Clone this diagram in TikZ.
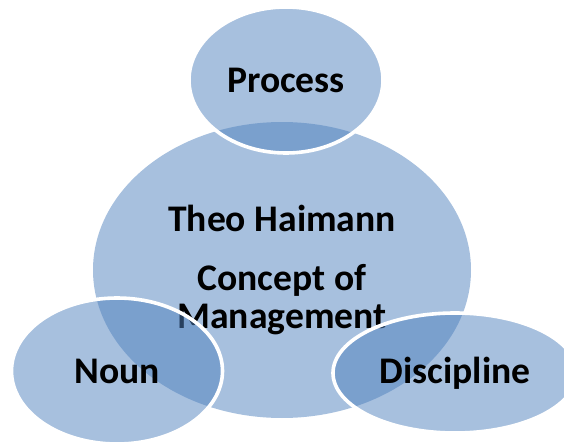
\documentclass[tikz,border=0pt]{standalone}
\usepackage{fontspec}
\setmainfont{Carlito}
\usetikzlibrary{shapes.geometric}
\definecolor{bubbleblue}{HTML}{4F81BD}

\begin{document}
\begin{tikzpicture}[x=0.5pt,y=-0.5pt]
\tikzset{bubble/.style = {shape=ellipse,fill=bubbleblue,fill opacity=0.5,text opacity=1,draw=white,line width=1.8pt,inner sep=0pt,align=center,font=\fontsize{18.8}{19}\selectfont\bfseries}}
\tikzset{core/.style = {bubble,draw=none}}
\clip (0,0) rectangle (564,445);
% bubbles
\node[core, minimum width=189pt, minimum height=148pt] (C) at (282,270) {Theo Haimann\\[10.5pt]Concept of\\Management};
\node[bubble, minimum width=97pt, minimum height=73pt] (P) at (286,80) {Process};
\node[bubble, minimum width=105.5pt, minimum height=73pt] (N) at (117,371) {Noun};
\node[bubble, minimum width=122pt, minimum height=60pt] (D) at (455,373) {Discipline};

\end{tikzpicture}
\end{document}
